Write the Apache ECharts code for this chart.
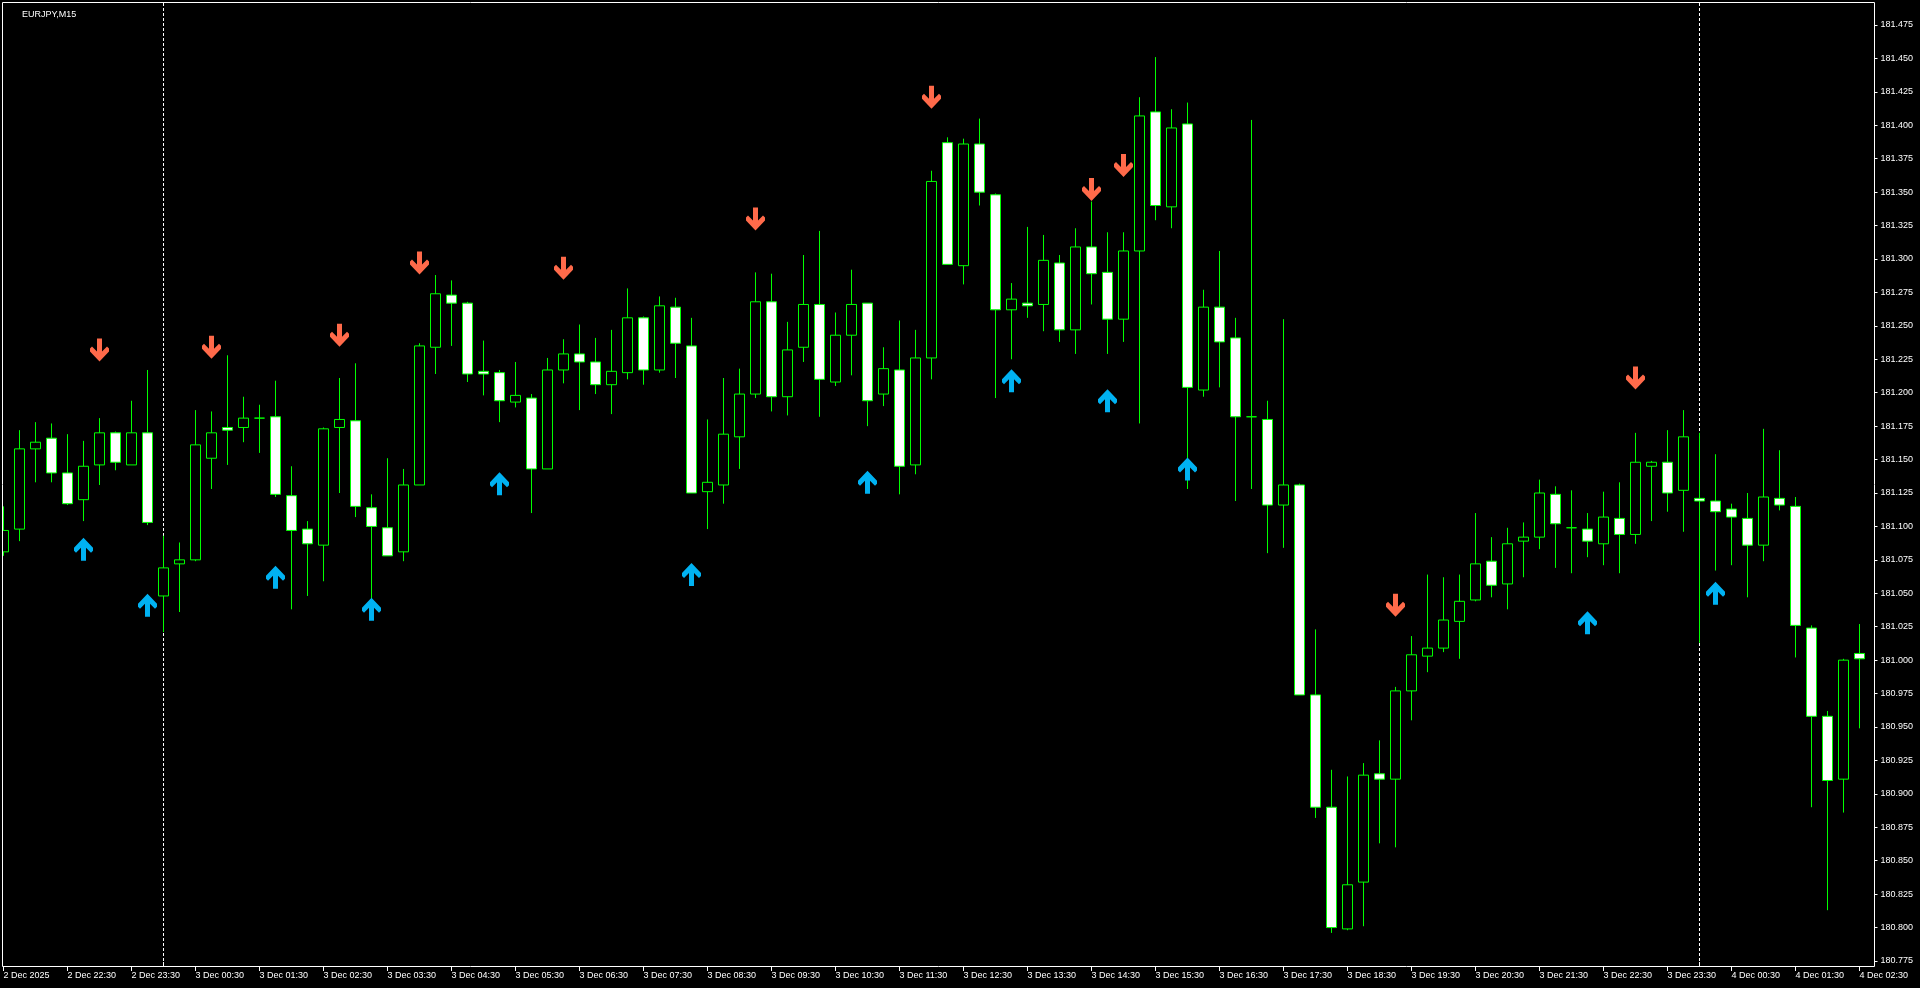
<!DOCTYPE html>
<html>
<head>
<meta charset="utf-8">
<title>EURJPY,M15</title>
<script src="https://cdn.jsdelivr.net/npm/echarts@6/dist/echarts.min.js"></script>
<style>
  html, body { margin: 0; padding: 0; background: #000; }
  #chart { width: 1920px; height: 988px; }
</style>
</head>
<body>
<div id="chart"></div>
<script>
// EURJPY M15, bars from 2 Dec 21:30 to 4 Dec 02:30
var openP = [
  181.081, 181.098, 181.158, 181.166, 181.140, 181.120, 181.146, 181.170, 181.146, 181.170,
  181.048, 181.072, 181.075, 181.151, 181.174, 181.174, 181.181, 181.182, 181.123, 181.098,
  181.086, 181.174, 181.179, 181.114, 181.099, 181.081, 181.131, 181.234, 181.273, 181.267,
  181.216, 181.215, 181.193, 181.196, 181.143, 181.217, 181.229, 181.223, 181.206, 181.215,
  181.256, 181.217, 181.264, 181.235, 181.126, 181.131, 181.167, 181.199, 181.268, 181.197,
  181.234, 181.266, 181.208, 181.243, 181.267, 181.199, 181.217, 181.146, 181.226, 181.387,
  181.295, 181.386, 181.348, 181.262, 181.267, 181.266, 181.297, 181.247, 181.309, 181.290,
  181.255, 181.306, 181.410, 181.339, 181.401, 181.202, 181.264, 181.241, 181.182, 181.180,
  181.116, 181.131, 180.974, 180.890, 180.799, 180.834, 180.915, 180.911, 180.977, 181.003,
  181.009, 181.029, 181.045, 181.074, 181.057, 181.089, 181.092, 181.124, 181.099, 181.098,
  181.087, 181.106, 181.094, 181.145, 181.148, 181.127, 181.121, 181.119, 181.113, 181.106,
  181.086, 181.121, 181.115, 181.024, 180.958, 180.911, 181.005
];
var closeP = [
  181.097, 181.158, 181.163, 181.140, 181.117, 181.145, 181.170, 181.148, 181.170, 181.103,
  181.069, 181.075, 181.161, 181.170, 181.172, 181.181, 181.181, 181.124, 181.097, 181.087,
  181.173, 181.180, 181.115, 181.100, 181.078, 181.131, 181.235, 181.274, 181.267, 181.214,
  181.214, 181.194, 181.198, 181.143, 181.217, 181.229, 181.223, 181.206, 181.216, 181.256,
  181.217, 181.265, 181.237, 181.125, 181.133, 181.169, 181.199, 181.268, 181.197, 181.232,
  181.266, 181.210, 181.243, 181.266, 181.194, 181.218, 181.145, 181.226, 181.358, 181.296,
  181.386, 181.350, 181.262, 181.270, 181.265, 181.299, 181.247, 181.309, 181.289, 181.255,
  181.306, 181.407, 181.340, 181.398, 181.204, 181.264, 181.238, 181.182, 181.182, 181.116,
  181.131, 180.974, 180.890, 180.800, 180.832, 180.914, 180.911, 180.977, 181.004, 181.009,
  181.030, 181.044, 181.072, 181.056, 181.087, 181.092, 181.125, 181.102, 181.099, 181.089,
  181.107, 181.094, 181.148, 181.148, 181.125, 181.167, 181.119, 181.111, 181.107, 181.086,
  181.122, 181.116, 181.026, 180.958, 180.910, 181.000, 181.001
];
var lowP = [
  181.078, 181.089, 181.133, 181.133, 181.116, 181.104, 181.131, 181.142, 181.146, 181.101,
  181.021, 181.036, 181.074, 181.128, 181.146, 181.163, 181.155, 181.122, 181.038, 181.048,
  181.059, 181.125, 181.107, 181.045, 181.078, 181.074, 181.131, 181.214, 181.235, 181.208,
  181.198, 181.178, 181.189, 181.110, 181.143, 181.207, 181.187, 181.199, 181.184, 181.210,
  181.206, 181.215, 181.211, 181.125, 181.098, 181.117, 181.143, 181.196, 181.186, 181.183,
  181.223, 181.182, 181.205, 181.213, 181.175, 181.190, 181.124, 181.139, 181.210, 181.296,
  181.281, 181.340, 181.196, 181.225, 181.256, 181.246, 181.238, 181.229, 181.266, 181.229,
  181.238, 181.177, 181.329, 181.323, 181.128, 181.197, 181.204, 181.119, 181.128, 181.080,
  181.084, 180.974, 180.882, 180.796, 180.798, 180.801, 180.863, 180.860, 180.955, 180.991,
  181.006, 181.001, 181.044, 181.047, 181.038, 181.062, 181.083, 181.069, 181.065, 181.077,
  181.071, 181.065, 181.087, 181.104, 181.111, 181.096, 181.013, 181.067, 181.071, 181.047,
  181.074, 181.112, 181.002, 180.890, 180.813, 180.886, 180.949
];
var highP = [
  181.115, 181.172, 181.178, 181.177, 181.169, 181.164, 181.181, 181.171, 181.194, 181.217,
  181.093, 181.088, 181.187, 181.186, 181.228, 181.197, 181.191, 181.209, 181.145, 181.104,
  181.174, 181.211, 181.222, 181.124, 181.151, 181.143, 181.237, 181.288, 181.284, 181.268,
  181.239, 181.217, 181.223, 181.199, 181.226, 181.240, 181.251, 181.241, 181.247, 181.278,
  181.257, 181.272, 181.271, 181.256, 181.180, 181.211, 181.218, 181.290, 181.289, 181.253,
  181.303, 181.321, 181.260, 181.292, 181.267, 181.234, 181.254, 181.247, 181.366, 181.391,
  181.390, 181.405, 181.349, 181.282, 181.324, 181.318, 181.303, 181.323, 181.343, 181.320,
  181.320, 181.421, 181.451, 181.412, 181.417, 181.277, 181.306, 181.256, 181.404, 181.194,
  181.255, 181.132, 181.023, 180.918, 180.913, 180.923, 180.940, 180.980, 181.018, 181.064,
  181.062, 181.064, 181.110, 181.092, 181.099, 181.103, 181.135, 181.130, 181.127, 181.110,
  181.126, 181.133, 181.170, 181.149, 181.172, 181.187, 181.170, 181.154, 181.117, 181.125,
  181.173, 181.157, 181.122, 181.026, 180.962, 181.001, 181.027
];

// one label every 4 bars (hourly)
var tickLabels = [
  '2 Dec 2025', '2 Dec 22:30', '2 Dec 23:30', '3 Dec 00:30', '3 Dec 01:30', '3 Dec 02:30',
  '3 Dec 03:30', '3 Dec 04:30', '3 Dec 05:30', '3 Dec 06:30', '3 Dec 07:30', '3 Dec 08:30',
  '3 Dec 09:30', '3 Dec 10:30', '3 Dec 11:30', '3 Dec 12:30', '3 Dec 13:30', '3 Dec 14:30',
  '3 Dec 15:30', '3 Dec 16:30', '3 Dec 17:30', '3 Dec 18:30', '3 Dec 19:30', '3 Dec 20:30',
  '3 Dec 21:30', '3 Dec 22:30', '3 Dec 23:30', '4 Dec 00:30', '4 Dec 01:30', '4 Dec 02:30'
];

// day separators (bar index)
var sepIdx = [10, 106];

// signal arrows: bar index and price
var downIdx   = [6, 13, 21, 26, 35, 47, 58, 68, 70, 87, 102];
var downPrice = [181.232, 181.234, 181.243, 181.297, 181.293, 181.330, 181.421, 181.352, 181.370, 181.041, 181.211];
var upIdx     = [5, 9, 17, 23, 31, 43, 54, 63, 69, 74, 99, 107];
var upPrice   = [181.083, 181.041, 181.062, 181.038, 181.132, 181.064, 181.133, 181.209, 181.194, 181.143, 181.028, 181.050];

var months = ['Jan','Feb','Mar','Apr','May','Jun','Jul','Aug','Sep','Oct','Nov','Dec'];
function pad(n) { return n < 10 ? '0' + n : '' + n; }
var times = [];
var t0 = Date.UTC(2025, 11, 2, 21, 30);
for (var i = 0; i < openP.length; i++) {
  var d = new Date(t0 + i * 15 * 60000);
  times.push(d.getUTCDate() + ' ' + months[d.getUTCMonth()] + ' ' + pad(d.getUTCHours()) + ':' + pad(d.getUTCMinutes()));
}

var candles = [];
for (var i = 0; i < openP.length; i++) {
  candles.push([openP[i], closeP[i], lowP[i], highP[i]]);
}
var downPts = [], upPts = [];
for (var i = 0; i < downIdx.length; i++) downPts.push([downIdx[i], downPrice[i]]);
for (var i = 0; i < upIdx.length; i++) upPts.push([upIdx[i], upPrice[i]]);

var downArrow = 'path://M7 0L12 0L12 13L17 8L19 10L19 13L9.5 23L0 13L0 10L2 8L7 13Z';
var upArrow   = 'path://M7 23L12 23L12 10L17 15L19 13L19 10L9.5 0L0 10L0 13L2 15L7 10Z';

var font = 'Liberation Sans, Arial, sans-serif';
var myChart = echarts.init(document.getElementById('chart'));

var option = {
  backgroundColor: '#000',
  animation: false,
  title: {
    text: 'EURJPY,M15', left: 17, top: 5,
    textStyle: { color: '#fff', fontSize: 9, fontWeight: 'normal', fontFamily: font }
  },
  grid: { left: -4.5, right: 52.5, top: 25, bottom: 27, outerBoundsMode: 'none', containLabel: false },
  xAxis: {
    type: 'category',
    data: times,
    boundaryGap: true,
    offset: 6,
    axisLine: { show: false },
    axisTick: { show: true, interval: 3, alignWithLabel: true, length: 4, lineStyle: { color: '#fff' } },
    axisLabel: {
      interval: 3, color: '#fff', fontSize: 9, fontFamily: font, align: 'left', margin: 4,
      hideOverlap: false,
      formatter: function (v, i) { return tickLabels[i / 4]; }
    },
    splitLine: { show: false }
  },
  yAxis: {
    type: 'value',
    position: 'right',
    min: 180.775,
    max: 181.475,
    interval: 0.025,
    offset: 7,
    axisLine: { show: false },
    axisTick: { show: true, length: 3, lineStyle: { color: '#fff' } },
    axisLabel: {
      color: '#fff', fontSize: 9, fontFamily: font, margin: 6,
      formatter: function (v) { return v.toFixed(3); }
    },
    splitLine: { show: false }
  },
  series: [
    {
      type: 'candlestick',
      data: candles,
      barWidth: 10,
      clip: true,
      z: 3,
      itemStyle: {
        color: '#000', color0: '#fff',
        borderColor: '#00ff00', borderColor0: '#00ff00', borderColorDoji: '#00ff00',
        borderWidth: 1
      },
      emphasis: { disabled: true }
    },
    {
      type: 'scatter', data: downPts, symbol: downArrow, symbolSize: [19, 23], z: 4,
      itemStyle: { color: '#ff6a4a', opacity: 1 }, emphasis: { disabled: true }
    },
    {
      type: 'scatter', data: upPts, symbol: upArrow, symbolSize: [19, 23], z: 4,
      itemStyle: { color: '#00b2f2', opacity: 1 }, emphasis: { disabled: true }
    }
  ]
};
myChart.setOption(option);

// frame and day separators
var gfx = [];
for (var i = 0; i < sepIdx.length; i++) {
  var x = Math.floor(myChart.convertToPixel({ xAxisIndex: 0 }, sepIdx[i])) + 0.5;
  gfx.push({
    type: 'line', z: 0, silent: true,
    shape: { x1: x, y1: 3, x2: x, y2: 966 },
    style: { stroke: '#fff', lineWidth: 1, lineDash: [3, 2] }
  });
  gfx.push({
    type: 'line', z: 0, silent: true,
    shape: { x1: x, y1: 967, x2: x, y2: 962 },
    style: { stroke: '#fff', lineWidth: 1 }
  });
}
gfx.push({
  type: 'rect', z: 100, silent: true,
  shape: { x: 0, y: 0, width: 2.5, height: 988 },
  style: { fill: '#000' }
});
gfx.push({
  type: 'rect', z: 101, silent: true,
  shape: { x: 2.5, y: 2.5, width: 1872, height: 964 },
  style: { fill: null, stroke: '#fff', lineWidth: 1 }
});
myChart.setOption({ graphic: gfx });
</script>
</body>
</html>
